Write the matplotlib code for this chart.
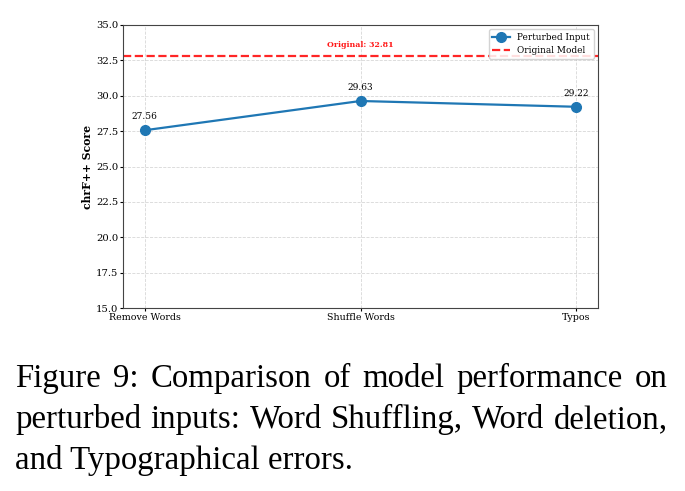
import numpy as np
import matplotlib.pyplot as plt

# data
categories = ["Remove Words", "Shuffle Words", "Typos"]
scores = [27.56, 29.63, 29.22]
original_score = 32.81
caption_lines = [
    "Figure 9:  Comparison of model performance on",
    "perturbed inputs: Word Shuffling, Word deletion,",
    "and Typographical errors.",
]

plt.rcParams['font.family'] = 'DejaVu Serif'

fig = plt.figure(figsize=(6.85, 4.91), dpi=100)
ax = fig.add_axes([123/685, 1-308/491, (598-123)/685, (308-25)/491])

x = np.arange(len(categories))
ax.plot(x, scores, marker='o', color='#1f77b4', linewidth=1.6, markersize=7,
        label='Perturbed Input')
ax.axhline(original_score, color='red', linestyle='--', linewidth=1.6, alpha=0.85,
           label='Original Model')
for xi, s in zip(x, scores):
    ax.annotate(f"{s:.2f}", (xi, s), textcoords='offset points', xytext=(0, 8),
                ha='center', fontsize=6.5)
ax.text(1, original_score + 0.8, f"Original: {original_score:.2f}", color='red',
        ha='center', va='center', fontsize=5.7, fontweight='bold', alpha=0.9)

ax.set_xticks(x)
ax.set_xticklabels(categories, fontsize=6.8)
ax.set_ylim(15, 35)
ax.set_yticks(np.arange(15, 35.1, 2.5))
ax.tick_params(axis='y', labelsize=7.2, length=2.5, pad=1)
ax.tick_params(axis='x', length=2.5, pad=1)
ax.set_ylabel("chrF++ Score", fontsize=7.8, fontweight='bold', labelpad=2)
ax.grid(True, linestyle='--', alpha=0.5, linewidth=0.6)
ax.legend(loc='upper right', fontsize=6.4, framealpha=0.85, borderpad=0.4)
for sp in ax.spines.values():
    sp.set_color('#444444')

# caption, justified
cap_font = dict(family='Liberation Serif', fontsize=23.7)
left, right = 15 / 685, 668 / 685
ys = [1 - 387/491, 1 - 428/491, 1 - 469/491]
fig.canvas.draw()
renderer = fig.canvas.get_renderer()
for i, (line, yy) in enumerate(zip(caption_lines, ys)):
    if i == len(caption_lines) - 1:
        fig.text(left, yy, line, ha='left', va='baseline', **cap_font)
        continue
    words = line.replace("  ", " ").split(" ")
    widths = []
    for w in words:
        t = fig.text(0, 0, w, **cap_font)
        bb = t.get_window_extent(renderer)
        widths.append(bb.width / fig.bbox.width)
        t.remove()
    gap = (right - left - sum(widths)) / (len(words) - 1)
    pos = left
    for w, wd in zip(words, widths):
        fig.text(pos, yy, w, ha='left', va='baseline', **cap_font)
        pos += wd + gap

fig.savefig('out.png', dpi=100)
